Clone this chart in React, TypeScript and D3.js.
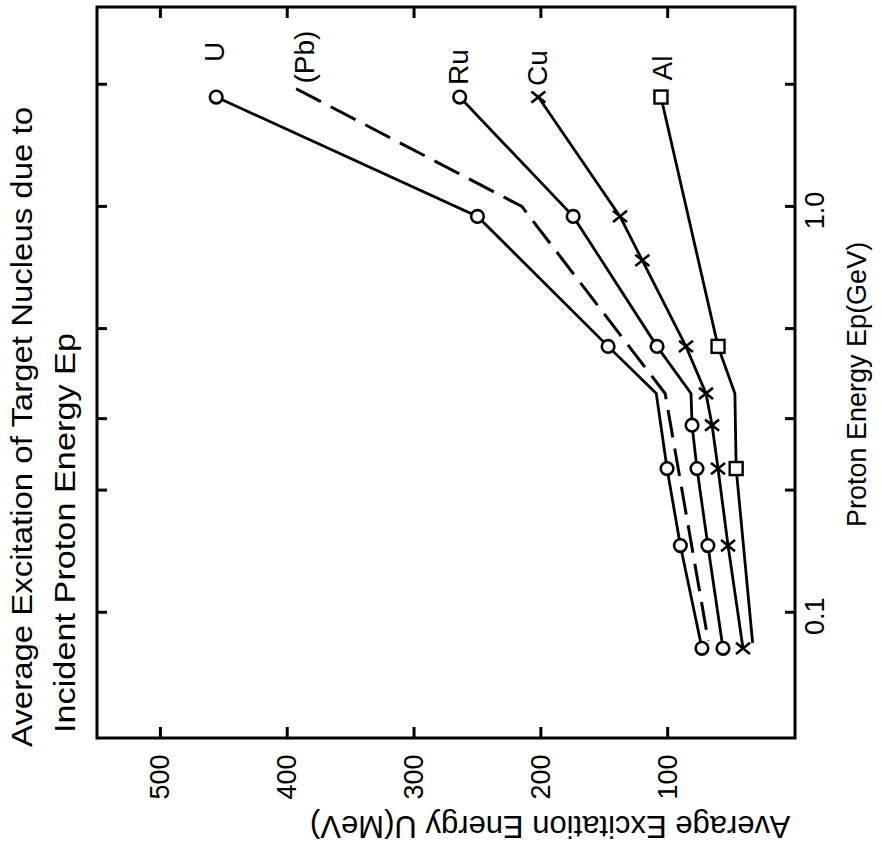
import React from "react";
import * as d3 from "d3";

// ---- data ----
const uTicks = [100, 200, 300, 400, 500];
const eTicks = [0.1, 0.2, 0.3, 0.5, 1.0, 2.0];
const eTickLabels = [
  { v: 0.1, t: "0.1" },
  { v: 1.0, t: "1.0" },
];

const energyU = [1.86, 0.945, 0.452, 0.346, 0.226, 0.146, 0.0815];
const valuesU = [456, 250, 147, 109, 100.5, 90, 73];
const markU = [1, 1, 1, 0, 1, 1, 1];

const energyPb = [1.95, 1.0, 0.346, 0.085];
const valuesPb = [393, 215, 102, 68];

const energyRu = [1.86, 0.945, 0.452, 0.346, 0.289, 0.226, 0.146, 0.0815];
const valuesRu = [264, 174.5, 108.4, 81.6, 80.8, 76.9, 68.3, 56.4];
const markRu = [1, 1, 1, 0, 1, 1, 1, 1];

const energyCu = [1.86, 0.945, 0.736, 0.452, 0.346, 0.289, 0.226, 0.146, 0.0815];
const valuesCu = [202, 137.6, 120, 85.6, 69.8, 65, 60.3, 52.4, 40.6];
const markCu = [1, 1, 1, 1, 1, 1, 1, 1, 1];

const energyAl = [1.86, 0.452, 0.346, 0.226, 0.084];
const valuesAl = [105.3, 60.3, 47, 46, 33];
const markAl = [1, 1, 0, 1, 0];

const titleLine1 = "Average Excitation of Target Nucleus  due  to";
const titleLine2 = "Incident  Proton  Energy  Ep";
const uAxisLabel = "Average Excitation  Energy  U(MeV)";
const eAxisLabel = "Proton  Energy  Ep(GeV)";

const FONT = "'Liberation Sans', Arial, Helvetica, sans-serif";

export default function App() {
  const W = 882;
  const H = 851;
  const left = 97, right = 795, top = 7, bottom = 738;
  const x = d3.scaleLinear().domain([0, 550]).range([794.5, left]);
  const y = d3.scaleLog().domain([0.049, 3.1]).range([bottom, top]);

  const line = d3
    .line<[number, number]>()
    .x((d) => x(d[1]))
    .y((d) => y(d[0]));

  const pts = (e: number[], v: number[]) => e.map((ei, i) => [ei, v[i]] as [number, number]);

  const sw = 2.8;

  const circles = (e: number[], v: number[], m: number[]) =>
    e.map((ei, i) =>
      m[i] ? (
        <circle key={i} cx={x(v[i])} cy={y(ei)} r={6.3} fill="#fff" stroke="#000" strokeWidth={2.6} />
      ) : null
    );
  const crosses = (e: number[], v: number[], m: number[]) =>
    e.map((ei, i) => {
      if (!m[i]) return null;
      const cx = x(v[i]);
      const cy = y(ei);
      const s = 7;
      return (
        <g key={i} stroke="#000" strokeWidth={2.6}>
          <line x1={cx - s} y1={cy - s * 0.8} x2={cx + s} y2={cy + s * 0.8} />
          <line x1={cx - s} y1={cy + s * 0.8} x2={cx + s} y2={cy - s * 0.8} />
        </g>
      );
    });
  const squares = (e: number[], v: number[], m: number[]) =>
    e.map((ei, i) =>
      m[i] ? (
        <rect key={i} x={x(v[i]) - 6.5} y={y(ei) - 6.5} width={13} height={13} fill="#fff" stroke="#000" strokeWidth={2.4} />
      ) : null
    );

  return (
    <svg
      width={W}
      height={H}
      style={{ position: "absolute", left: 0, top: 0, background: "#fff" }}
      fontFamily={FONT}
    >
      <rect x={0} y={0} width={W} height={H} fill="#fff" />

      {/* title (rotated) */}
      <text
        transform={`translate(32,747) rotate(-90)`}
        fontSize={30}
        textLength={640}
        lengthAdjust="spacingAndGlyphs"
      >
        {titleLine1}
      </text>
      <text
        transform={`translate(75,733) rotate(-90)`}
        fontSize={30}
        textLength={400}
        lengthAdjust="spacingAndGlyphs"
      >
        {titleLine2}
      </text>

      {/* frame */}
      <rect x={left} y={top} width={right - left} height={bottom - top} fill="none" stroke="#000" strokeWidth={3} />

      {/* U ticks (bottom & top) */}
      {uTicks.map((t) => (
        <g key={t} stroke="#000" strokeWidth={3}>
          <line x1={x(t)} x2={x(t)} y1={bottom} y2={bottom - 11} />
          <line x1={x(t)} x2={x(t)} y1={top} y2={top + 11} />
        </g>
      ))}
      {uTicks.map((t) => (
        <text
          key={"l" + t}
          transform={`translate(${x(t)},777) rotate(-90)`}
          fontSize={27}
          textAnchor="middle"
          dominantBaseline="central"
        >
          {t}
        </text>
      ))}

      {/* E ticks (left & right) */}
      {eTicks.map((t) => (
        <g key={t} stroke="#000" strokeWidth={3}>
          <line x1={left} x2={left + 10} y1={y(t)} y2={y(t)} />
          <line x1={right} x2={right - 10} y1={y(t)} y2={y(t)} />
        </g>
      ))}
      {eTickLabels.map((t) => (
        <text
          key={t.t}
          transform={`translate(815,${y(t.v) + 4}) rotate(-90)`}
          fontSize={27}
          textAnchor="middle"
          dominantBaseline="central"
        >
          {t.t}
        </text>
      ))}

      {/* axis labels */}
      <text transform={`translate(310,826) rotate(180)`} fontSize={31} textAnchor="end" dominantBaseline="central">
        {uAxisLabel}
      </text>
      <text transform={`translate(866,527) rotate(-90)`} fontSize={27} textAnchor="start">
        {eAxisLabel}
      </text>

      {/* series lines */}
      <g fill="none" stroke="#000" strokeWidth={sw}>
        <path d={line(pts(energyU, valuesU)) || ""} />
        <path d={line(pts(energyRu, valuesRu)) || ""} />
        <path d={line(pts(energyCu, valuesCu)) || ""} />
        <path d={line(pts(energyAl, valuesAl)) || ""} />
        <path d={line(pts(energyPb, valuesPb)) || ""} strokeDasharray="28 11" strokeWidth={3} />
      </g>

      {/* markers */}
      {circles(energyU, valuesU, markU)}
      {circles(energyRu, valuesRu, markRu)}
      {crosses(energyCu, valuesCu, markCu)}
      {squares(energyAl, valuesAl, markAl)}

      {/* series labels */}
      <g fontSize={28} textAnchor="middle" dominantBaseline="central">
        <text transform={`translate(214,52) rotate(-90)`}>U</text>
        <text transform={`translate(304,57) rotate(-90)`}>(Pb)</text>
        <text transform={`translate(458,67) rotate(-90)`}>Ru</text>
        <text transform={`translate(537,68) rotate(-90)`}>Cu</text>
        <text transform={`translate(662,68) rotate(-90)`}>Al</text>
      </g>
    </svg>
  );
}
